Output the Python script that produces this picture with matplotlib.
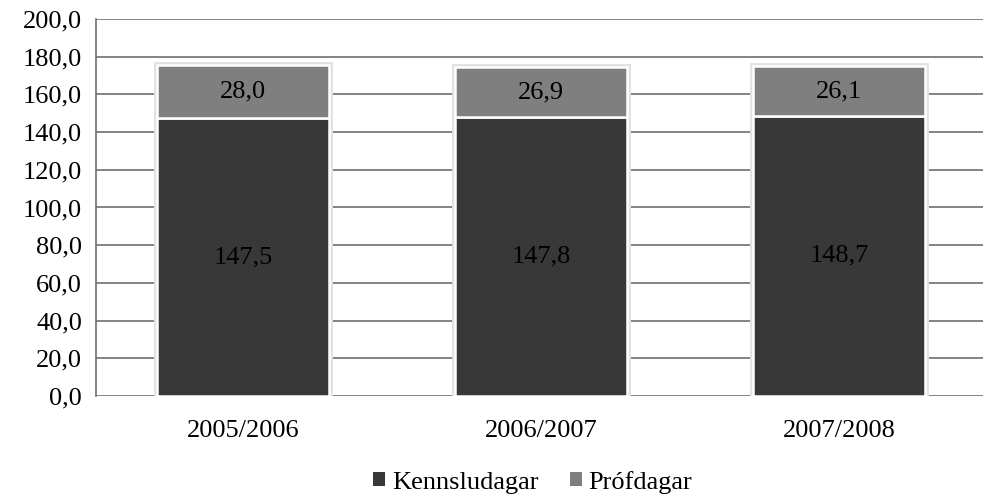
import numpy as np
import matplotlib.pyplot as plt

plt.rcParams['font.family'] = ['Liberation Serif', 'DejaVu Serif']

years = ['2005/2006', '2006/2007', '2007/2008']
kennsla = [147.5, 147.8, 148.7]
prof = [28.0, 26.9, 26.1]

def fmt(v):
    return ('%.1f' % v).replace('.', ',')

fig = plt.figure(figsize=(9.83, 4.97), dpi=100)
ax = fig.add_axes([0.0977, 0.203, 0.9023, 0.759])

x = np.arange(len(years))
total = np.array(kennsla) + np.array(prof)
# soft glow round each stack
ax.bar(x, total, width=0.58, color='none', edgecolor='#e2e2e2', linewidth=5, zorder=2)
b1 = ax.bar(x, kennsla, width=0.58, color='#383838', edgecolor='white', linewidth=1.8,
            label='Kennsludagar', zorder=3)
b2 = ax.bar(x, prof, width=0.58, bottom=kennsla, color='#7f7f7f', edgecolor='white', linewidth=1.8,
            label='Prófdagar', zorder=3)

for i in range(len(years)):
    ax.text(x[i], kennsla[i] / 2, fmt(kennsla[i]), ha='center', va='center', fontsize=19, zorder=4)
    ax.text(x[i], kennsla[i] + prof[i] / 2, fmt(prof[i]), ha='center', va='center', fontsize=19, zorder=4)

ax.set_xlim(-0.493, 2.483)
ax.set_ylim(0, 200)
ax.set_yticks(np.arange(0, 201, 20))
ax.set_yticklabels([fmt(v) for v in np.arange(0, 201, 20)])
ax.set_xticks(x)
ax.set_xticklabels(years)
ax.tick_params(axis='both', length=0, labelsize=19)
ax.tick_params(axis='x', pad=17)
ax.tick_params(axis='y', pad=10)
ax.yaxis.grid(True, color='#6e6e6e', linewidth=1.2, zorder=0)
ax.set_axisbelow(True)
for s in ['top', 'right', 'bottom']:
    ax.spines[s].set_visible(False)
ax.spines['left'].set_color('#6e6e6e')
ax.spines['left'].set_linewidth(1.2)

leg = fig.legend(handles=[b1, b2], loc='center', bbox_to_anchor=(0.542, 0.03), ncol=2, frameon=False,
                 fontsize=19, handlelength=0.45, handleheight=0.45, handletextpad=0.25, columnspacing=1.2)
for h in leg.legend_handles:
    h.set_edgecolor('none')

plt.savefig('out.png')
